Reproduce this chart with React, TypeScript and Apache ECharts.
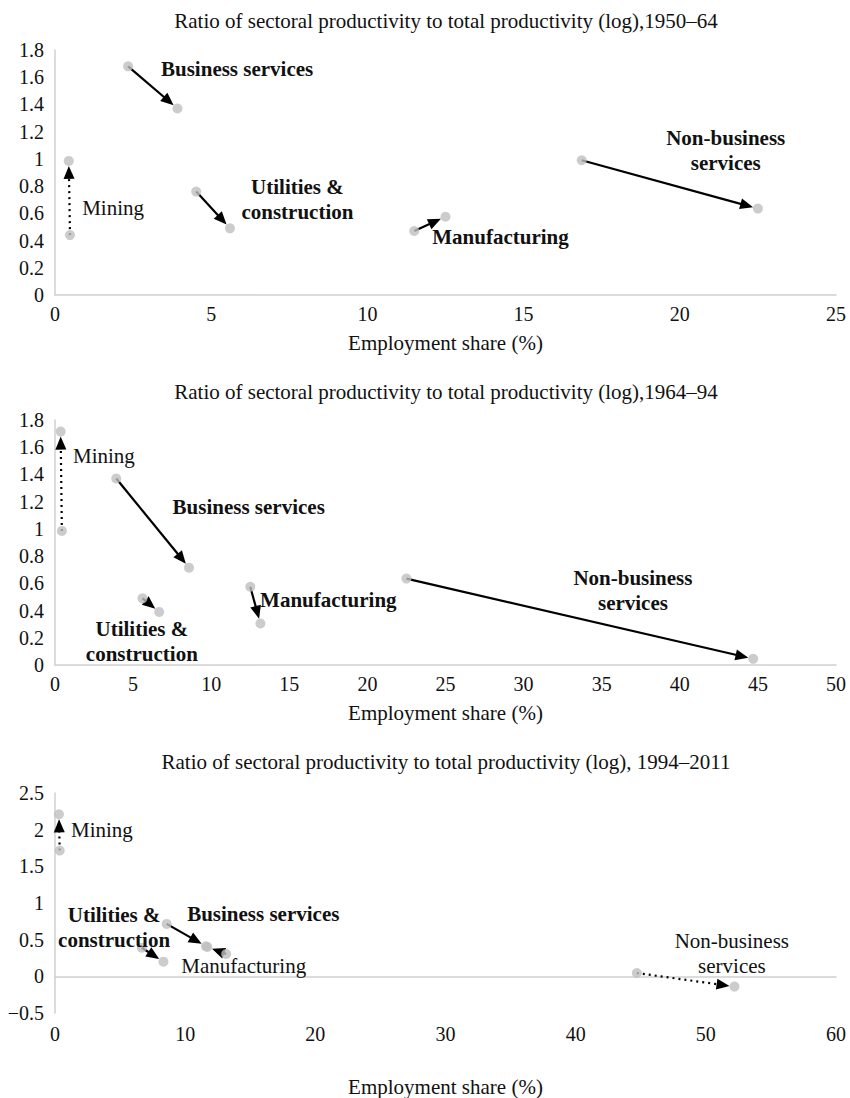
import React, { useEffect, useRef } from "react";
import * as echarts from "echarts";

// Employment share (%) and productivity ratio (log) at 1950, 1964, 1994, 2011
const sectors = ["Mining", "Business services", "Utilities & construction", "Manufacturing", "Non-business services"];
const miningShare = [0.48, 0.44, 0.36, 0.3];
const miningRatio = [0.44, 0.985, 1.715, 2.21];
const businessShare = [2.34, 3.92, 8.58, 11.6];
const businessRatio = [1.68, 1.37, 0.715, 0.41];
const utilitiesShare = [4.52, 5.6, 6.67, 8.33];
const utilitiesRatio = [0.76, 0.49, 0.39, 0.2];
const manufacturingShare = [11.5, 12.5, 13.15, 11.7];
const manufacturingRatio = [0.47, 0.575, 0.305, 0.4];
const nonBusinessShare = [16.86, 22.5, 44.7, 52.2];
const nonBusinessRatio = [0.99, 0.635, 0.045, -0.14];

const panelTitles = [
  "Ratio of sectoral productivity to total productivity (log),1950–64",
  "Ratio of sectoral productivity to total productivity (log),1964–94",
  "Ratio of sectoral productivity to total productivity (log), 1994–2011",
];
const xMax = [25, 50, 60];
const xInterval = [5, 5, 10];
const yMin = [0, 0, -0.5];
const yMax = [1.8, 1.8, 2.5];
const yInterval = [0.2, 0.2, 0.5];

// dotted arrows per panel (sector order)
const dottedPanels = [
  [true, false, false, false, false],
  [true, false, false, false, false],
  [true, false, false, false, true],
];
const boldPanels = [
  [false, true, true, true, true],
  [false, true, true, true, true],
  [false, true, true, false, false],
];
const labelTexts = ["Mining", "Business services", "Utilities &\nconstruction", "Manufacturing", "Non-business\nservices"];
// label anchors in data units per panel
const labelXs = [
  [0.87, 5.83, 7.76, 14.26, 21.47],
  [1.15, 12.4, 5.56, 17.5, 37.0],
  [1.23, 16.0, 4.54, 14.5, 52.0],
];
const labelYs = [
  [0.64, 1.66, 0.705, 0.426, 1.065],
  [1.536, 1.16, 0.169, 0.478, 0.544],
  [1.99, 0.85, 0.66, 0.136, 0.307],
];
const labelLeft = [
  [true, false, false, false, false],
  [true, false, false, false, false],
  [true, false, false, false, false],
];

const shares = [miningShare, businessShare, utilitiesShare, manufacturingShare, nonBusinessShare];
const ratios = [miningRatio, businessRatio, utilitiesRatio, manufacturingRatio, nonBusinessRatio];

const FONT = "Liberation Serif";
const TEXT = "#111111";

const grids = [
  { left: 55, top: 50, width: 781, height: 245 },
  { left: 55, top: 420, width: 781, height: 245 },
  { left: 55, top: 793, width: 781, height: 264 },
];
const titleYs = [21, 392, 762];
const xLabelMargin = [9, 9, 11];
const xNameGap = [37, 37, 63];

function fmtY(v: number) {
  const r = Math.round(v * 10) / 10;
  if (r < 0) return "−" + String(Math.abs(r));
  return String(r);
}

export default function App() {
  const ref = useRef<HTMLDivElement>(null);
  useEffect(() => {
    if (!ref.current) return;
    const chart = echarts.init(ref.current, null, { renderer: "svg" });

    const xAxis: any[] = [];
    const yAxis: any[] = [];
    const series: any[] = [];
    const graphic: any[] = [];

    for (let p = 0; p < 3; p++) {
      xAxis.push({
        type: "value",
        gridIndex: p,
        min: 0,
        max: xMax[p],
        interval: xInterval[p],
        splitLine: { show: false },
        axisTick: { show: false },
        axisLine: { show: true, onZero: true, lineStyle: { color: "#d0d0d0", width: 1.5 } },
        axisLabel: { color: TEXT, fontFamily: FONT, fontSize: 20, margin: xLabelMargin[p] },
        name: "Employment share (%)",
        nameLocation: "middle",
        nameGap: xNameGap[p],
        nameTextStyle: { color: TEXT, fontFamily: FONT, fontSize: 21 },
      });
      yAxis.push({
        type: "value",
        gridIndex: p,
        min: yMin[p],
        max: yMax[p],
        interval: yInterval[p],
        splitLine: { show: false },
        axisTick: { show: false },
        axisLine: { show: true, onZero: false, lineStyle: { color: "#d0d0d0", width: 1.5 } },
        axisLabel: { color: TEXT, fontFamily: FONT, fontSize: 20, margin: 11, formatter: fmtY },
      });

      const arrowData: any[] = [];
      const dotData: any[] = [];
      const labelData: any[] = [];
      for (let s = 0; s < sectors.length; s++) {
        arrowData.push([shares[s][p], ratios[s][p], shares[s][p + 1], ratios[s][p + 1], dottedPanels[p][s] ? 1 : 0]);
        dotData.push([shares[s][p], ratios[s][p]]);
        dotData.push([shares[s][p + 1], ratios[s][p + 1]]);
        labelData.push({
          value: [labelXs[p][s], labelYs[p][s]],
          label: {
            show: true,
            formatter: labelTexts[s],
            position: [0, 0],
            align: labelLeft[p][s] ? "left" : "center",
            verticalAlign: "middle",
            fontWeight: boldPanels[p][s] ? "bold" : "normal",
            fontFamily: FONT,
            fontSize: 21,
            lineHeight: 25,
            color: TEXT,
            textBorderWidth: 0,
            textBorderColor: "transparent",
            opacity: 1,
          },
        });
      }

      series.push({
        type: "custom",
        xAxisIndex: p,
        yAxisIndex: p,
        z: 2,
        encode: { x: [0, 2], y: [1, 3] },
        data: arrowData,
        renderItem: (params: any, api: any) => {
          const p1 = api.coord([api.value(0), api.value(1)]);
          const p2 = api.coord([api.value(2), api.value(3)]);
          const dotted = api.value(4) === 1;
          const dx = p2[0] - p1[0];
          const dy = p2[1] - p1[1];
          const len = Math.hypot(dx, dy) || 1;
          const ux = dx / len;
          const uy = dy / len;
          const r = 5;
          const hl = 13;
          const hw = 5.5;
          const tip = [p2[0] - ux * r, p2[1] - uy * r];
          const base = [tip[0] - ux * hl, tip[1] - uy * hl];
          const nx = -uy;
          const ny = ux;
          return {
            type: "group",
            children: [
              {
                type: "line",
                shape: { x1: p1[0], y1: p1[1], x2: base[0] + ux, y2: base[1] + uy },
                style: {
                  stroke: "#000",
                  lineWidth: 2.2,
                  lineDash: dotted ? [2, 4] : undefined,
                },
              },
              {
                type: "polygon",
                shape: {
                  points: [
                    tip,
                    [base[0] + nx * hw, base[1] + ny * hw],
                    [base[0] - nx * hw, base[1] - ny * hw],
                  ],
                },
                style: { fill: "#000" },
              },
            ],
          };
        },
      });
      series.push({
        type: "scatter",
        xAxisIndex: p,
        yAxisIndex: p,
        z: 3,
        symbolSize: 10,
        itemStyle: { color: "#bfbfbf" },
        data: dotData,
      });
      series.push({
        type: "scatter",
        xAxisIndex: p,
        yAxisIndex: p,
        z: 4,
        symbolSize: 0,
        silent: true,
        itemStyle: { color: TEXT },
        data: labelData,
      });

      graphic.push({
        type: "text",
        x: 446,
        y: titleYs[p],
        style: {
          text: panelTitles[p],
          align: "center",
          verticalAlign: "middle",
          fontFamily: FONT,
          fontSize: 21,
          fill: TEXT,
        },
      });
    }

    chart.setOption({
      animation: false,
      backgroundColor: "#ffffff",
      grid: grids,
      xAxis,
      yAxis,
      series,
      graphic,
    });
    return () => chart.dispose();
  }, []);
  return (
    <div
      ref={ref}
      style={{ position: "absolute", left: 0, top: 0, width: 850, height: 1098 }}
    />
  );
}
